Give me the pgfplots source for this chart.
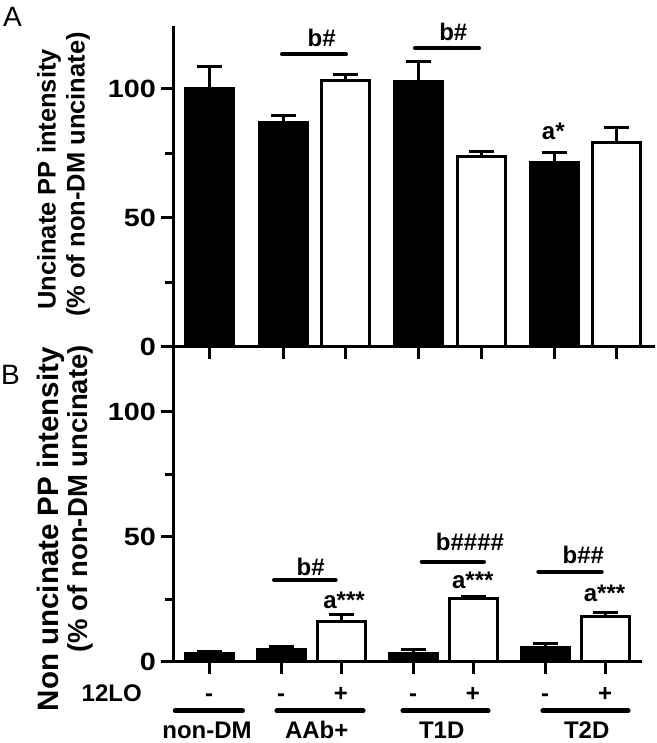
\documentclass[border=0pt]{standalone}
\usepackage{fontspec}
\setmainfont{Liberation Sans}
\newfontfamily\widefont[FakeStretch=1.15]{Liberation Sans}
\usepackage{pgfplots}
\pgfplotsset{compat=1.18}
\newcommand{\fs}[1]{\fontsize{#1}{#1}\selectfont}
\tikzset{
  lbl/.style={font=\bfseries\fs{24}},
  lblb/.style={font=\bfseries\fs{24}, anchor=base},
}
\begin{document}
\begin{tikzpicture}[x=1pt,y=1pt]
\path[use as bounding box] (0pt,0pt) rectangle (656pt,743pt);
\pgfplotsset{
  panel/.style={
    scale only axis,
    axis lines*=left,
    axis line style={line width=3pt},
    ymin=0,
    ytick={0,50,100},
    minor ytick={25,75},
    tick align=outside,
    major tick length=12pt,
    minor tick length=8pt,
    every tick/.style={line width=3pt, black},
    xticklabel=\empty,
    yticklabel style={font=\widefont\bfseries\fs{25}, inner sep=0pt, xshift=-5pt},
    /pgf/number format/assume math mode=true,
    clip=false,
    ybar, bar width=48, bar shift=0,
  },
  blackbar/.style={fill=black, draw=black, line width=3pt,
    error bars/.cd, y dir=plus, y explicit,
    error bar style={line width=3pt, black},
    error mark options={rotate=90, line width=3pt, mark size=12.5pt, black}},
  whitebar/.style={fill=white, draw=black, line width=3pt,
    error bars/.cd, y dir=plus, y explicit,
    error bar style={line width=3pt, black},
    error mark options={rotate=90, line width=3pt, mark size=12.5pt, black}},
}
% ---------- Panel A ----------
\begin{axis}[panel, at={(173pt,396pt)}, anchor=south west,
  width=482pt, height=321pt, xmin=173, xmax=655, ymax=124.4,
  xtick={209,283,345,418,481,554,616}]
\addplot[blackbar] table[x=x, y=y, y error=e] {
x y e
209 100 8.6
283 87.1 2.7
418 102.8 7.9
554 71.4 4.0
};
\addplot[whitebar] table[x=x, y=y, y error=e] {
x y e
345 103.2 2.5
481 73.8 1.8
616 79.2 6.0
};
\draw[line width=4pt, line cap=round] (axis cs:282,113.4) -- (axis cs:346,113.4);
\node[lbl] at (axis cs:321.7,119.6) {b\#};
\draw[line width=4pt, line cap=round] (axis cs:415,115.8) -- (axis cs:479,115.8);
\node[lbl] at (axis cs:453.3,122.2) {b\#};
\node[lbl] at (axis cs:553.3,83.4) {a*};
\end{axis}
% ---------- Panel B ----------
\begin{axis}[panel, at={(173pt,81.3pt)}, anchor=south west,
  width=469pt, height=314.7pt, xmin=173, xmax=642, ymax=125.9,
  xtick={209,281,341,413,473,545,605}]
\addplot[blackbar] table[x=x, y=y, y error=e] {
x y e
209 3.2 1.0
281 4.8 1.2
413 3.4 1.5
545 5.6 1.5
};
\addplot[whitebar] table[x=x, y=y, y error=e] {
x y e
341 15.9 2.8
473 25.4 0.6
605 18.0 1.6
};
\draw[line width=4pt, line cap=round] (axis cs:274,32.7) -- (axis cs:335.7,32.7);
\node[lbl] at (axis cs:310.7,37.9) {b\#};
\node[lbl] at (axis cs:344,24.6) {a***};
\draw[line width=4pt, line cap=round] (axis cs:421.7,40) -- (axis cs:484,40);
\node[lbl] at (axis cs:470,48) {b\#\#\#\#};
\node[lbl] at (axis cs:472.8,32.7) {a***};
\draw[line width=4pt, line cap=round] (axis cs:538.3,36) -- (axis cs:601.7,36);
\node[lbl] at (axis cs:583.3,42.8) {b\#\#};
\node[lbl] at (axis cs:604.5,27.4) {a***};
% below axis
\node[lblb] at (axis cs:111.7,-16.1) {12LO};
\node[lblb] at (axis cs:209,-16.1) {-};
\node[lblb] at (axis cs:281,-16.1) {-};
\node[lblb] at (axis cs:413,-16.1) {-};
\node[lblb] at (axis cs:545,-16.1) {-};
\node[lblb] at (axis cs:341,-16.1) {+};
\node[lblb] at (axis cs:473,-16.1) {+};
\node[lblb] at (axis cs:605,-16.1) {+};
\draw[line width=4.5pt, line cap=round] (axis cs:175,-19.6) -- (axis cs:242.7,-19.6);
\draw[line width=4.5pt, line cap=round] (axis cs:276.7,-19.6) -- (axis cs:363.3,-19.6);
\draw[line width=4.5pt, line cap=round] (axis cs:402.7,-19.6) -- (axis cs:488.3,-19.6);
\draw[line width=4.5pt, line cap=round] (axis cs:542.7,-19.6) -- (axis cs:628.3,-19.6);
\node[lblb] at (axis cs:207,-30.9) {non-DM};
\node[lblb] at (axis cs:316.7,-30.9) {AAb+};
\node[lblb] at (axis cs:441.7,-30.9) {T1D};
\node[lblb] at (axis cs:586.7,-30.9) {T2D};
\end{axis}
% ---------- labels ----------
\node[font=\fs{28}, anchor=north west, inner sep=0pt] at (3pt,736pt) {A};
\node[font=\fs{28}, anchor=north west, inner sep=0pt] at (1pt,378pt) {B};
\node[font=\bfseries\fs{25.5}, rotate=90, inner sep=0pt] at (49pt,563.5pt) {Uncinate PP intensity};
\node[font=\bfseries\fs{25.5}, rotate=90, inner sep=0pt] at (78pt,568.5pt) {(\% of non-DM uncinate)};
\node[font=\bfseries\fs{29.5}, rotate=90, anchor=east, inner sep=0pt] at (50.5pt,396pt) {Non uncinate PP intensity};
\node[font=\bfseries\fs{27.5}, rotate=90, anchor=east, inner sep=0pt] at (80pt,398pt) {(\% of non-DM uncinate)};
\end{tikzpicture}
\end{document}
